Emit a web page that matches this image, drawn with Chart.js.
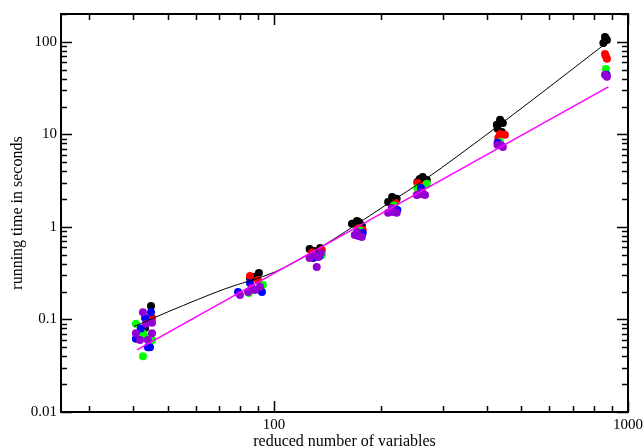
<!DOCTYPE html>
<html>
<head>
<meta charset="utf-8">
<script src="https://cdn.jsdelivr.net/npm/chart.js@4"></script>
<style>
  html, body { margin: 0; padding: 0; background: #fff; }
  #wrap { width: 643px; height: 446px; }
</style>
</head>
<body>
<div id="wrap"><canvas id="chart"></canvas></div>
<script>
// measured running times, one list of [variables, seconds] per method
const blackPts = [[44.9,0.14],[44.6,0.094],[43.2,0.081],[90.6,0.318],[85.5,0.281],[88,0.29],
  [126,0.579],[135,0.593],[130,0.55],[171.5,1.16],[166,1.08],[177,1.03],[174,1.12],
  [215.5,2.1],[210,1.86],[222,2.01],[263,3.47],[254,3.06],[270,3.22],[258,3.3],
  [435,14.4],[426,12.7],[443,13.3],[428,11.5],[440,10.6],[861,113],[872,105],[852,97],[866,108]];
const redPts = [[45.2,0.104],[44.6,0.10],[85.5,0.295],[90.0,0.267],[136.5,0.564],[128,0.53],
  [172.5,0.975],[178,0.929],[220,1.82],[254,2.99],[267,2.85],[435,10.1],[449,9.9],[430,9.2],
  [861,74],[872,65.5],[866,70]];
const greenPts = [[40.7,0.09],[42.6,0.071],[45.2,0.06],[42.6,0.04],[43.5,0.065],[84.9,0.193],
  [93.0,0.236],[136.5,0.498],[175,0.907],[218,1.7],[254,2.64],[270,2.92],[435,8.3],[866,51]];
const bluePts = [[44.9,0.12],[43.2,0.104],[40.7,0.062],[44.6,0.05],[44.0,0.05],[42.0,0.08],
  [79.1,0.198],[92.4,0.198],[85.5,0.248],[129,0.462],[134,0.48],[178,0.861],[223,1.52],
  [260,2.64],[428,8.1],[870,44]];
const purplePts = [[42.6,0.12],[45.2,0.092],[40.7,0.071],[45.2,0.071],[41.8,0.06],[44.0,0.06],
  [43.5,0.09],[80.1,0.184],[88.3,0.208],[91.2,0.225],[84.4,0.198],[86.5,0.22],[126,0.462],
  [133,0.474],[132,0.37],[135.6,0.524],[129,0.5],[169,0.82],[177,0.78],[171.5,0.883],
  [173,0.8],[210,1.42],[222,1.42],[215,1.6],[217,1.45],[253,2.22],[267,2.22],[262,2.39],
  [258,2.25],[428,7.7],[443,7.3],[438,7.6],[861,44],[872,42]];

// fitted curves
const blackFit = [[40.2,0.084],[50.8,0.1235],[72.6,0.214],[100.5,0.326],[130,0.55],
  [170,1.05],[215,1.9],[262,3.1],[435,12.8],[877,100]];
const magentaFit = [[41,0.047],[880,32.6]];

// axes
const xMajorTicks = [100, 1000];
const xTickLabels = ['100', '1000'];
const xMinorTicks = [30,40,50,60,70,80,90,200,300,400,500,600,700,800,900];
const yMajorTicks = [0.01, 0.1, 1, 10, 100];
const yTickLabels = ['0.01', '0.1', '1', '10', '100'];
const yMinorTicks = [0.02,0.03,0.04,0.05,0.06,0.07,0.08,0.09,0.2,0.3,0.4,0.5,0.6,0.7,0.8,0.9,
  2,3,4,5,6,7,8,9,20,30,40,50,60,70,80,90,200];

const toXY = pts => pts.map(p => ({x: p[0], y: p[1]}));

Chart.defaults.font.family = "'Liberation Serif', 'Times New Roman', serif";
Chart.defaults.color = '#000';

// grace style frame with inward ticks on all four sides
const frameTicks = {
  id: 'frameTicks',
  afterDraw(chart) {
    const {ctx, chartArea: a, scales: {x, y}} = chart;
    ctx.save();
    ctx.strokeStyle = '#000';
    const seg = (x1, y1, x2, y2) => { ctx.beginPath(); ctx.moveTo(x1, y1); ctx.lineTo(x2, y2); ctx.stroke(); };
    ctx.lineWidth = 1.5;
    const xt = (vals, len) => vals.forEach(v => {
      const p = Math.round(x.getPixelForValue(v)) + 0.5;
      seg(p, a.bottom, p, a.bottom - len);
      seg(p, a.top, p, a.top + len);
    });
    const yt = (vals, len) => vals.forEach(v => {
      const p = Math.round(y.getPixelForValue(v)) + 0.5;
      seg(a.left, p, a.left + len, p);
      seg(a.right, p, a.right - len, p);
    });
    xt(xMajorTicks, 11); xt(xMinorTicks, 6);
    yt(yMajorTicks, 11); yt(yMinorTicks, 6);
    ctx.lineWidth = 2;
    ctx.strokeRect(a.left, a.top, a.right - a.left, a.bottom - a.top);
    ctx.restore();
  }
};

const dot = (data, color) => ({
  data: toXY(data), showLine: false, pointRadius: 4, pointHoverRadius: 4,
  pointBorderWidth: 0, backgroundColor: color, borderColor: color
});
const fit = (data, color, w) => ({
  data: toXY(data), showLine: true, pointRadius: 0, borderColor: color,
  borderWidth: w, cubicInterpolationMode: 'monotone'
});

new Chart(document.getElementById('chart'), {
  type: 'scatter',
  data: {
    datasets: [
      fit(magentaFit, '#ff00ff', 1.5),
      fit(blackFit, '#000000', 1),
      dot(purplePts, '#9400d3'),
      dot(bluePts, '#0000ff'),
      dot(greenPts, '#00ff00'),
      dot(redPts, '#ff0000'),
      dot(blackPts, '#000000')
    ]
  },
  options: {
    animation: false,
    responsive: true,
    maintainAspectRatio: false,
    layout: { padding: { left: 0, right: 15, top: 14, bottom: 0 } },
    plugins: { legend: { display: false }, tooltip: { enabled: false } },
    scales: {
      x: {
        type: 'logarithmic', min: 25, max: 1000,
        grid: { display: false, drawTicks: false },
        border: { display: false },
        afterBuildTicks: s => { s.ticks = xMajorTicks.map(v => ({value: v})); },
        afterFit: s => { s.height = 34; s.paddingLeft = 0; s.paddingRight = 0; },
        ticks: { padding: 4, maxRotation: 0, font: { size: 15 },
          callback: (v, i) => xTickLabels[i] },
        title: { display: true, text: 'reduced number of variables', font: { size: 16 },
          padding: { top: 0, bottom: -5 } }
      },
      y: {
        type: 'logarithmic', min: 0.01, max: 200,
        grid: { display: false, drawTicks: false },
        border: { display: false },
        afterBuildTicks: s => { s.ticks = yMajorTicks.map(v => ({value: v})); },
        afterFit: s => { s.width = 61; s.paddingTop = 0; s.paddingBottom = 0; },
        ticks: { padding: 4, font: { size: 15 },
          callback: (v, i) => yTickLabels[i] },
        title: { display: true, text: 'running time in seconds', font: { size: 16 },
          padding: { top: 8, bottom: 0 } }
      }
    }
  },
  plugins: [frameTicks]
});
</script>
</body>
</html>
